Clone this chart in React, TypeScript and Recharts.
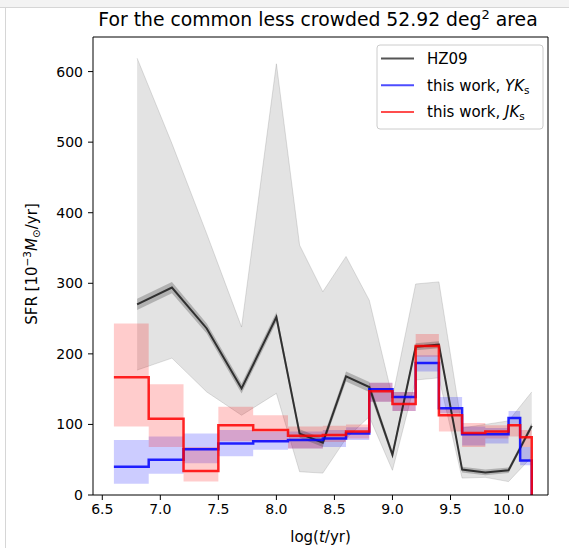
import React from 'react';
import { ComposedChart, Line, Area, XAxis, YAxis, ReferenceLine } from 'recharts';

// HZ09 curve (log age, SFR) with its envelope
const hzX = [6.8, 7.1, 7.4, 7.7, 8.0, 8.2, 8.4, 8.6, 8.8, 9.0, 9.2, 9.4, 9.6, 9.8, 10.0, 10.2];
const hzSfr = [270, 294, 236, 151, 252, 87, 74, 168, 153, 57, 210, 213, 36, 32, 35, 98];
const hzHi = [619, 498, 370, 238, 611, 354, 288, 338, 276, 138, 299, 302, 95, 100, 105, 146];
const hzLo = [177, 194, 146, 113, 144, 33, 31, 80, 111, 35, 163, 166, 24, 25, 19, 54];
const hzErr = [8, 8, 7, 7, 7, 6, 6, 7, 7, 5, 5, 5, 4, 4, 4, 4];

// this work: bins
const binEdges = [6.6, 6.9, 7.2, 7.5, 7.8, 8.1, 8.4, 8.6, 8.8, 9.0, 9.2, 9.4, 9.6, 9.8, 10.0, 10.1, 10.2];
const yksSfr = [40, 50, 65, 73, 76, 78, 80, 87, 150, 139, 187, 123, 86, 86, 109, 49];
const yksLo = [16, 30, 45, 55, 64, 66, 68, 78, 132, 119, 175, 116, 70, 73, 101, 42];
const yksHi = [78, 83, 87, 92, 90, 90, 92, 96, 159, 146, 198, 139, 97, 95, 119, 68];
const jksSfr = [167, 108, 34, 99, 92, 84, 85, 90, 147, 129, 211, 113, 88, 90, 99, 82];
const jksLo = [97, 68, 19, 76, 75, 66, 75, 80, 132, 119, 196, 90, 68, 80, 83, 68];
const jksHi = [243, 157, 68, 125, 113, 97, 98, 100, 159, 146, 228, 123, 102, 99, 101, 92];

const xTicks = [6.5, 7.0, 7.5, 8.0, 8.5, 9.0, 9.5, 10.0];
const yTicks = [0, 100, 200, 300, 400, 500, 600];
const xDomain = [6.42, 10.34];
const yDomain = [0, 649];

const legendItems = [
  { key: 'hz', color: '#555555', label: 'HZ09', math: '' , sub: '' },
  { key: 'yk', color: '#4d4dff', label: 'this work, ', math: 'YK', sub: 's' },
  { key: 'jk', color: '#ff4d4d', label: 'this work, ', math: 'JK', sub: 's' },
];

const hzData = hzX.map((x, i) => ({
  x,
  sfr: hzSfr[i],
  env: [hzLo[i], hzHi[i]],
  band: [hzSfr[i] - hzErr[i], hzSfr[i] + hzErr[i]],
}));

function stepData(sfr: number[], lo: number[], hi: number[]) {
  const pts = binEdges.slice(0, -1).map((x, i) => ({ x, sfr: sfr[i], box: [lo[i], hi[i]] }));
  const last = sfr.length - 1;
  pts.push({ x: binEdges[binEdges.length - 1], sfr: 0, box: [lo[last], hi[last]] });
  return pts;
}

const yksData = stepData(yksSfr, yksLo, yksHi);
const jksData = stepData(jksSfr, jksLo, jksHi);

const FONT = 'DejaVu Sans';

export default function App() {
  return (
    <div style={{ position: 'absolute', left: 0, top: 0, width: 569, height: 548, background: '#fff', overflow: 'hidden', fontFamily: FONT }}>
      <div style={{ position: 'absolute', left: 0, top: 0, width: 569, height: 7, background: '#f3f3f3', borderBottom: '1px solid #d6d6d6' }} />
      <div style={{ position: 'absolute', left: 5, top: 8, width: 1, height: 540, background: '#d6d6d6' }} />
      <div style={{ position: 'absolute', left: 0, top: 0 }}>
        <ComposedChart width={569} height={548} margin={{ top: 37, right: 21, bottom: 23, left: 33 }}>
          <XAxis
            dataKey="x"
            type="number"
            domain={xDomain}
            allowDataOverflow
            ticks={xTicks}
            tickFormatter={(v: number) => v.toFixed(1)}
            height={30}
            tickSize={5}
            tickMargin={4}
            stroke="#000"
            tick={{ fill: '#000', fontSize: 14, fontFamily: FONT }}
            tickLine={{ stroke: '#000' }}
            axisLine={{ stroke: '#000' }}
          />
          <YAxis
            type="number"
            domain={yDomain}
            allowDataOverflow
            ticks={yTicks}
            width={60}
            tickSize={5}
            tickMargin={5}
            stroke="#000"
            tick={{ fill: '#000', fontSize: 14, fontFamily: FONT }}
            tickLine={{ stroke: '#000' }}
            axisLine={{ stroke: '#000' }}
          />
          <Area
            data={hzData}
            dataKey="env"
            type="linear"
            fill="#808080"
            fillOpacity={0.22}
            stroke="#808080"
            strokeOpacity={0.25}
            strokeWidth={1}
            dot={false}
            activeDot={false}
            isAnimationActive={false}
          />
          <Area
            data={yksData}
            dataKey="box"
            type="stepAfter"
            fill="#0000ff"
            fillOpacity={0.2}
            stroke="none"
            dot={false}
            activeDot={false}
            isAnimationActive={false}
          />
          <Area
            data={jksData}
            dataKey="box"
            type="stepAfter"
            fill="#ff0000"
            fillOpacity={0.2}
            stroke="none"
            dot={false}
            activeDot={false}
            isAnimationActive={false}
          />
          <Area
            data={hzData}
            dataKey="band"
            type="linear"
            fill="#404040"
            fillOpacity={0.3}
            stroke="none"
            dot={false}
            activeDot={false}
            isAnimationActive={false}
          />
          <Line
            data={hzData}
            dataKey="sfr"
            type="linear"
            stroke="#1a1a1a"
            strokeOpacity={0.85}
            strokeWidth={2}
            dot={false}
            activeDot={false}
            isAnimationActive={false}
          />
          <Line
            data={yksData}
            dataKey="sfr"
            type="stepAfter"
            stroke="#0000ff"
            strokeOpacity={0.85}
            strokeWidth={2.5}
            dot={false}
            activeDot={false}
            isAnimationActive={false}
          />
          <Line
            data={jksData}
            dataKey="sfr"
            type="stepAfter"
            stroke="#ff0000"
            strokeOpacity={0.85}
            strokeWidth={2.5}
            dot={false}
            activeDot={false}
            isAnimationActive={false}
          />
          <ReferenceLine y={yDomain[1]} stroke="#000" strokeWidth={1} />
          <ReferenceLine x={xDomain[1]} stroke="#000" strokeWidth={1} />
        </ComposedChart>
      </div>
      <svg width={569} height={548} style={{ position: 'absolute', left: 0, top: 0, pointerEvents: 'none' }} fontFamily={FONT}>
        <text x={318} y={26} textAnchor="middle" fontSize={18.8} fill="#000">
          For the common less crowded 52.92 deg
          <tspan fontSize={13} dy={-7}>2</tspan>
          <tspan dy={7}> area</tspan>
        </text>
        <text x={320.5} y={542} textAnchor="middle" fontSize={15} fill="#000">
          log(<tspan fontStyle="italic">t</tspan>/yr)
        </text>
        <text x={37} y={264} textAnchor="middle" fontSize={15} fill="#000" transform="rotate(-90 37 264)">
          SFR [10<tspan fontSize={10.5} dy={-6}>−3</tspan>
          <tspan dy={6} fontStyle="italic">M</tspan>
          <tspan fontSize={10.5} dy={3}>⊙</tspan>
          <tspan dy={-3}>/yr]</tspan>
        </text>
        <rect x={377} y={45} width={166} height={84} rx={3} fill="#fff" fillOpacity={0.8} stroke="#cccccc" strokeWidth={1} />
        {legendItems.map((it, i) => {
          const y = 58.5 + i * 26.7;
          return (
            <g key={it.key}>
              <line x1={381} x2={414} y1={y} y2={y} stroke={it.color} strokeWidth={2} />
              <text x={427} y={y + 5.5} fontSize={15} fill="#000">
                {it.label}
                {it.math ? <tspan fontStyle="italic">{it.math}</tspan> : null}
                {it.sub ? <tspan fontSize={10.5} dy={3}>{it.sub}</tspan> : null}
              </text>
            </g>
          );
        })}
      </svg>
    </div>
  );
}
